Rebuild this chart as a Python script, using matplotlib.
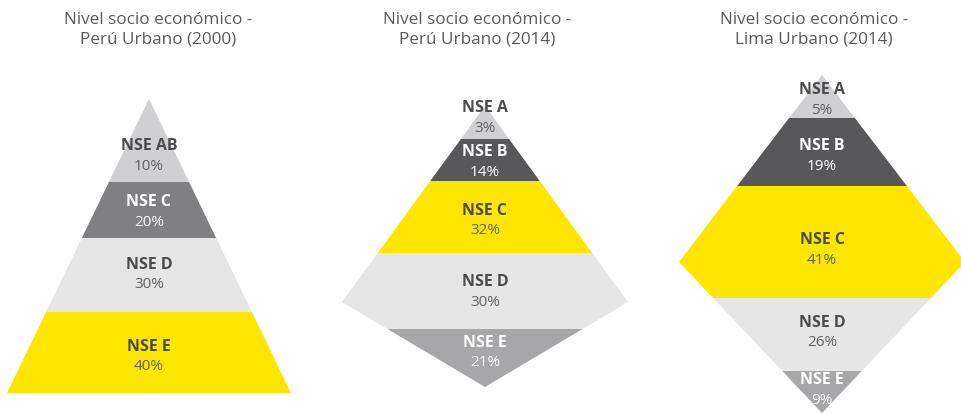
import numpy as np
import matplotlib.pyplot as plt
from matplotlib.patches import Polygon

# Data
titles = ["Nivel socio económico -\nPerú Urbano (2000)",
          "Nivel socio económico -\nPerú Urbano (2014)",
          "Nivel socio económico -\nLima Urbano (2014)"]

groups_2000 = ["NSE AB", "NSE C", "NSE D", "NSE E"]
pct_2000 = [10, 20, 30, 40]

groups_peru_2014 = ["NSE A", "NSE B", "NSE C", "NSE D", "NSE E"]
pct_peru_2014 = [3, 14, 32, 30, 21]

groups_lima_2014 = ["NSE A", "NSE B", "NSE C", "NSE D", "NSE E"]
pct_lima_2014 = [5, 19, 41, 26, 9]

# Colours
LIGHT = "#d0d0d2"
MID = "#808083"
PALE = "#e6e6e7"
YELLOW = "#ffe600"
DARK = "#58585a"
GREY = "#a7a7a9"
TXT = "#4b4b4d"

# Layout (pixel units): outline vertices as (y, half width), band edges, label centres
charts = [
    dict(title=titles[0], groups=groups_2000, pct=pct_2000, cx=149, tx=158,
         outline=[(99, 0), (393, 142)],
         edges=[99, 182, 238, 312, 393],
         label_y=[156, 212, 275, 357],
         fills=[LIGHT, MID, PALE, YELLOW],
         white=[False, True, False, False]),
    dict(title=titles[1], groups=groups_peru_2014, pct=pct_peru_2014, cx=485, tx=477,
         outline=[(106, 0), (302, 143), (387, 0)],
         edges=[106, 139, 181, 253, 329, 387],
         label_y=[118, 162, 221, 292, 353],
         fills=[LIGHT, DARK, YELLOW, PALE, GREY],
         white=[False, True, False, False, True]),
    dict(title=titles[2], groups=groups_lima_2014, pct=pct_lima_2014, cx=822, tx=814,
         outline=[(75, 0), (262, 143), (413, 0)],
         edges=[75, 118, 186, 298, 371, 413],
         label_y=[100, 156, 250, 333, 390],
         fills=[LIGHT, DARK, YELLOW, PALE, GREY],
         white=[False, True, False, False, True]),
]

fig = plt.figure(figsize=(9.61, 4.13), dpi=100)
ax = fig.add_axes([0, 0, 1, 1])
ax.set_xlim(0, 961)
ax.set_ylim(413, 0)
ax.axis("off")

for c in charts:
    oy = [p[0] for p in c["outline"]]
    ow = [p[1] for p in c["outline"]]
    cx = c["cx"]
    for i in range(len(c["groups"])):
        y0, y1 = c["edges"][i], c["edges"][i + 1]
        ys = [y0] + [y for y in oy if y0 < y < y1] + [y1]
        hw = np.interp(ys, oy, ow)
        left = [(cx - w, y) for w, y in zip(hw, ys)]
        right = [(cx + w, y) for w, y in zip(hw[::-1], ys[::-1])]
        ax.add_patch(Polygon(left + right, closed=True, facecolor=c["fills"][i],
                             edgecolor="none"))

        col1 = "white" if c["white"][i] else TXT
        col2 = "white" if c["white"][i] else "#616163"
        ly = c["label_y"][i]
        ax.text(cx, ly - 10, c["groups"][i], ha="center", va="center",
                fontsize=11.5, fontweight="bold", color=col1, family="Open Sans")
        ax.text(cx, ly + 10, f"{c['pct'][i]}%", ha="center", va="center",
                fontsize=11, color=col2, family="Open Sans")

    ax.text(c["tx"], 30, c["title"], ha="center", va="center", fontsize=12.3,
            color="#5a5a5c", family="Open Sans", linespacing=1.3)

fig.savefig("out.png", dpi=100)
